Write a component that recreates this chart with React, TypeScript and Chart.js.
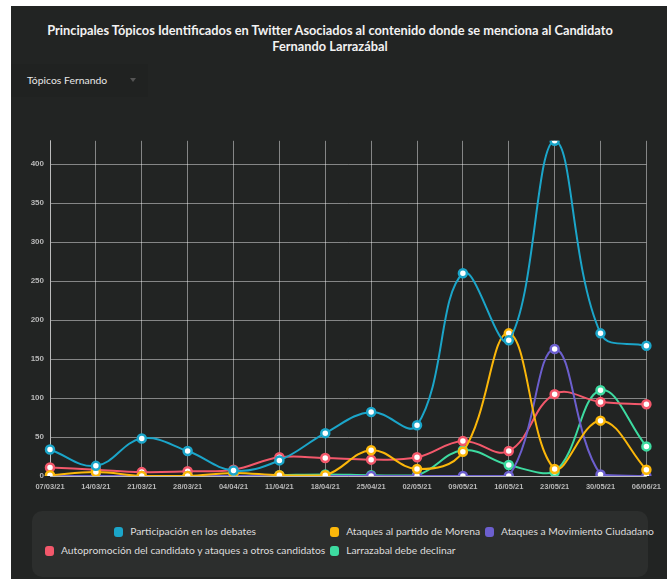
import React, { useEffect, useRef } from "react";
import { Chart, registerables } from "chart.js";

Chart.register(...registerables);

const labels = ["07/03/21","14/03/21","21/03/21","28/03/21","04/04/21","11/04/21","18/04/21","25/04/21","02/05/21","09/05/21","16/05/21","23/05/21","30/05/21","06/06/21"];

const participacion = [34, 13, 48, 32, 7, 20, 55, 82, 65, 260, 174, 430, 183, 167];
const ataquesMorena = [1, 5, 0, 0, 4, 1, 1, 33, 9, 31, 183, 9, 71, 8];
const ataquesMC = [0, 0, 0, 0, 0, 0, 0, 0, 0, 0, 0, 163, 2, 0];
const autopromocion = [11, 8, 5, 6, 8, 24, 23, 21, 24, 45, 32, 105, 95, 92];
const larrazabal = [0, 0, 0, 0, 0, 1, 2, 1, 1, 33, 14, 5, 110, 38];

const seriesNames = [
  "Participación en los debates",
  "Ataques al partido de Morena",
  "Ataques a Movimiento Ciudadano",
  "Autopromoción del candidato y ataques a otros candidatos",
  "Larrazabal debe declinar",
];
const seriesColors = ["#1ba5c9", "#fbb70a", "#6c5fce", "#f3586b", "#3ddba0"];
const seriesData = [participacion, ataquesMorena, ataquesMC, autopromocion, larrazabal];

const yTickStep = 50;

const PANEL = "#222423";
const FONT = "Lato, 'Open Sans', sans-serif";

function ChartCanvas() {
  const ref = useRef<HTMLCanvasElement | null>(null);
  useEffect(() => {
    if (!ref.current) return;
    const yMax = Math.max(...seriesData.flat());
    const chart = new Chart(ref.current, {
      type: "line",
      data: {
        labels,
        datasets: seriesData.map((d, i) => ({
          label: seriesNames[i],
          data: d,
          borderColor: seriesColors[i],
          backgroundColor: seriesColors[i],
          pointBackgroundColor: "#ffffff",
          pointBorderColor: seriesColors[i],
          pointRadius: 4,
          pointBorderWidth: 2.5,
          borderWidth: 2,
          tension: 0.4,
          fill: false,
        })),
      },
      options: {
        animation: false,
        responsive: true,
        maintainAspectRatio: false,
        layout: { padding: { top: 9, right: 19, left: 0, bottom: 0 } },
        plugins: { legend: { display: false }, title: { display: false }, tooltip: { enabled: false } },
        scales: {
          x: {
            grid: { color: "rgba(255,255,255,0.45)", drawTicks: false, lineWidth: 1 },
            border: { color: "rgba(255,255,255,0.45)" },
            ticks: { color: "#b8b8b8", font: { family: "'Liberation Sans', Arial, sans-serif", size: 7.5, weight: "bold" }, padding: 6, maxRotation: 0, autoSkip: false },
            afterFit: (s: any) => { s.height = 24; },
          },
          y: {
            min: 0,
            max: yMax,
            grid: { color: "rgba(255,255,255,0.45)", drawTicks: false, lineWidth: 1 },
            border: { color: "rgba(255,255,255,0.45)" },
            ticks: { color: "#b8b8b8", font: { family: "'Liberation Sans', Arial, sans-serif", size: 8, weight: "bold" }, padding: 6, stepSize: yTickStep },
            afterBuildTicks: (s: any) => { s.ticks = s.ticks.filter((t: any) => t.value % yTickStep === 0); },
            afterFit: (s: any) => { s.width = 39; },
          },
        },
      },
    });
    return () => chart.destroy();
  }, []);
  return <canvas ref={ref} />;
}

export default function App() {
  return (
    <div style={{ position: "absolute", left: 11, top: 6, width: 656, height: 573, background: PANEL, overflow: "hidden", fontFamily: FONT }}>
      <div style={{ position: "absolute", left: 0, top: 16, width: 638, textAlign: "center", color: "#f2f2f2", fontWeight: 700, fontSize: 12.8, lineHeight: "16px" }}>
        Principales Tópicos Identificados en Twitter Asociados al contenido donde se menciona al Candidato
        <br />
        Fernando Larrazábal
      </div>
      <div style={{ position: "absolute", left: 0, top: 58, width: 137, height: 33, background: "#202221" }}>
        <div style={{ position: "absolute", left: 16, top: 0, lineHeight: "33px", fontSize: 10.4, color: "#e8e8e8" }}>Tópicos Fernando</div>
        <div style={{ position: "absolute", left: 119, top: 14, width: 0, height: 0, borderLeft: "3px solid transparent", borderRight: "3px solid transparent", borderTop: "4px solid #555" }} />
      </div>
      <div style={{ position: "absolute", left: 0, top: 124, width: 656, height: 370 }}>
        <ChartCanvas />
      </div>
      <div style={{ position: "absolute", left: 21, top: 505, width: 616, height: 66, background: "#2c2e2d", borderRadius: 10, boxSizing: "border-box", padding: "14px 0 0 13px" }}>
        <div style={{ display: "grid", gridTemplateColumns: "auto auto auto", columnGap: 5, rowGap: 6, justifyContent: "start", alignItems: "center" }}>
          {[0, 1, 2, 3, 4].map((i) => (
            <div key={i} style={{ display: "flex", alignItems: "center", justifySelf: i === 0 ? "center" : "start", color: "#dcdcdc", fontSize: 10.3, lineHeight: "13px", whiteSpace: "nowrap" }}>
              <span style={{ display: "inline-block", width: 9, height: 10, borderRadius: 3, background: seriesColors[i], marginRight: 7 }} />
              {seriesNames[i]}
            </div>
          ))}
        </div>
      </div>
    </div>
  );
}
